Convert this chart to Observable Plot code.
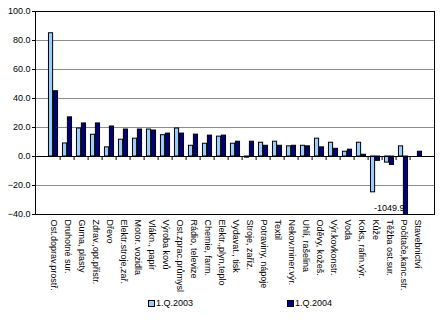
<!DOCTYPE html>
<html><head><meta charset="utf-8">
<script src="https://cdn.jsdelivr.net/npm/d3@7"></script>
<script src="https://cdn.jsdelivr.net/npm/@observablehq/plot@0.6"></script>
<style>
body{margin:0;background:#fff;font-family:"Liberation Sans",Arial,sans-serif;}
#wrap{position:relative;width:446px;height:324px;overflow:hidden;}
#chart{position:absolute;left:0;top:0;width:446px;height:295px;}
.lg{position:absolute;font-size:9px;line-height:9px;color:#000;white-space:nowrap;}
.sw{position:absolute;width:5px;height:5px;border:1px solid #000;}
</style>
</head><body>
<div id="wrap"><div id="chart"></div>
<div class="sw" style="left:148px;top:300px;background:#99CCFF"></div>
<div class="lg" style="left:156px;top:299px" id="l1"></div>
<div class="sw" style="left:287px;top:300px;background:#000080"></div>
<div class="lg" style="left:295px;top:299px" id="l2"></div>
</div>
<script>
const categories = ["Ost.doprav.prostř.","Druhotné sur.","Guma, plasty","Zdrav.,opt.přístr.","Dřevo","Elektr.stroje,zař.","Motor. vozidla","Vlákn., papír","Výroba kovů","Ost.zprac.průmysl","Rádio, televize","Chemie, farm.","Elektr.,plyn,teplo","Vydavat., tisk","Stroje, zaříz.","Potraviny, nápoje","Textil","Nekov.miner.výr.","Uhlí, rašelina","Oděvy, kožeš.","Výr.kovkonstr.","Voda","Koks, rafin.výr.","Kůže","Těžba ost.sur.","Počítače,kanc.str.","Stavebnictví"];
const q2003 = [85, 9, 19.3, 15, 6.3, 11.6, 12.3, 18.6, 14.7, 19.3, 7.4, 8.8, 13.7, 8.8, -0.8, 9.5, 10.2, 7, 7.4, 12.3, 9.5, 3.3, 9.5, -24.7, -4.2, 7, null];
const q2004 = [45, 27, 22.8, 22.8, 20.7, 18.6, 18.6, 17.9, 15.8, 15.8, 15.1, 14.4, 14.4, 10.2, 10.2, 7.4, 7.4, 7.4, 7, 6.3, 5.3, 4.7, 1.2, -3, -5.8, -1049.9, 3.3];
const seriesNames = ["1.Q.2003", "1.Q.2004"];
const yTicks = [-40, -20, 0, 20, 40, 60, 80, 100];
const gridValues = [-20, 20, 40, 60, 80];
const dataLabels = [{category: "Počítače,kanc.str.", text: "-1049.9"}];

document.getElementById("l1").textContent = seriesNames[0];
document.getElementById("l2").textContent = seriesNames[1];

const rows2003 = categories.map((c, i) => ({category: c, value: q2003[i]})).filter(d => d.value != null);
const rows2004 = categories.map((c, i) => ({category: c, value: q2004[i]})).filter(d => d.value != null);

const W = 446, H = 295, mL = 35, mR = 12;
const bw = (W - mL - mR) / categories.length;

const chart = Plot.plot({
  width: W, height: H,
  marginLeft: mL, marginRight: mR, marginTop: 11, marginBottom: 81,
  style: {fontFamily: "'Liberation Sans', Arial, sans-serif", fontSize: "9px", background: "white", color: "black"},
  x: {domain: categories, padding: 0, label: null, tickSize: 0, tickRotate: 90, tickPadding: 5},
  y: {domain: [-40, 100], ticks: yTicks, tickFormat: d3.format(".1f"), label: null, tickSize: 3, tickPadding: 2},
  marks: [
    Plot.ruleY(gridValues, {stroke: "#8c8c8c", strokeWidth: 1}),
    Plot.barY(rows2003, {x: "category", y: "value", fill: "#99CCFF", stroke: "black", strokeWidth: 1, insetLeft: bw / 6, insetRight: bw / 2, clip: true}),
    Plot.text(dataLabels, {x: "category", y: () => -40, text: "text", textAnchor: "end", dy: -6, dx: 1, fontSize: 9}),
    Plot.barY(rows2004, {x: "category", y: "value", fill: "#000080", stroke: "black", strokeWidth: 1, insetLeft: bw / 2, insetRight: bw / 6, clip: true}),
    Plot.ruleY([0], {stroke: "black"}),
    Plot.ruleX(categories.slice(1), {x: d => d, dx: -bw / 2, y1: () => 0, y2: () => -2.8, stroke: "black"}),
    Plot.frame({stroke: "black"})
  ]
});
document.getElementById("chart").appendChild(chart);
</script>
</body></html>
